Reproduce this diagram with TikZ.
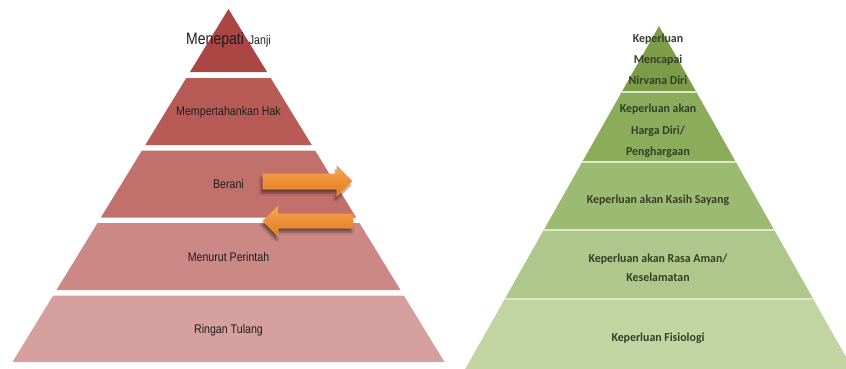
\documentclass[tikz,border=0pt]{standalone}
\usepackage{fontspec}
\setmainfont{Liberation Sans}[FakeStretch=0.85]
\newfontfamily\grfont{Carlito}[FakeStretch=0.97]
\usetikzlibrary{shadows.blur}
\definecolor{r1}{HTML}{AA4643}
\definecolor{r2}{HTML}{B85A55}
\definecolor{r3}{HTML}{C2706C}
\definecolor{r4}{HTML}{CC8885}
\definecolor{r5}{HTML}{D6A09F}
\definecolor{g1}{HTML}{7C9C48}
\definecolor{g2}{HTML}{8BAC5B}
\definecolor{g3}{HTML}{9DBA72}
\definecolor{g4}{HTML}{AFC78A}
\definecolor{g5}{HTML}{C1D4A2}
\definecolor{gsep}{HTML}{DCE8C8}
\definecolor{gtext}{HTML}{34402A}
\definecolor{ortop}{HTML}{F8A650}
\definecolor{orbot}{HTML}{E27A1C}
\definecolor{oredge}{HTML}{F39A3E}
% #1 centre x, #2 slope, #3 apex y, #4 top y, #5 bottom y, #6 colour
\newcommand\pyrband[6]{\fill[#6] ({#1-#2*(#4-#3)},#4) -- ({#1+#2*(#4-#3)},#4) -- ({#1+#2*(#5-#3)},#5) -- ({#1-#2*(#5-#3)},#5) -- cycle;}
\tikzset{
  rlab/.style={font=\fontsize{12.5}{14}\selectfont, text=black!88, anchor=base, inner sep=0pt},
  glab/.style={font=\grfont\bfseries\fontsize{12.2}{14}\selectfont, text=gtext, anchor=base, inner sep=0pt},
  orarrow/.style={top color=ortop, bottom color=orbot, draw=oredge, line width=0.6pt,
    blur shadow={shadow xshift=-1.5pt, shadow yshift=-4pt, shadow opacity=45, shadow blur steps=6}},
  gsepline/.style={draw=gsep, line width=2.5pt}
}
\begin{document}
\begin{tikzpicture}[x=1pt, y=-1pt]
\useasboundingbox (0,0) rectangle (846,368);
% ---------- red pyramid ----------
\fill[r1] (228.5,9) -- ({228.5-0.612*63},72) -- ({228.5+0.612*63},72) -- cycle;
\pyrband{228.5}{0.612}{9}{78}{145}{r2}
\pyrband{228.5}{0.612}{9}{150.5}{217.5}{r3}
\pyrband{228.5}{0.612}{9}{223}{290}{r4}
\pyrband{228.5}{0.612}{9}{295.5}{362}{r5}
\node[rlab] (t1) at (228.5,44) {{\fontsize{16.5}{18}\selectfont Menepati}\hspace{5pt}Janji};
\node[rlab] (t2) at (228.5,115) {Mempertahankan Hak};
\node[rlab] (t3) at (228.5,188) {Berani};
\node[rlab] (t4) at (228.5,261) {Menurut Perintah};
\node[rlab] (t5) at (228.5,333) {Ringan Tulang};
% ---------- arrows ----------
\path[orarrow] (263,174) -- (337,174) -- (337,166) -- (352,181) -- (337,196) -- (337,189) -- (263,189) -- cycle;
\path[orarrow] (353,214) -- (278,214) -- (278,206) -- (263,221) -- (278,236) -- (278,228) -- (353,228) -- cycle;
% ---------- green pyramid ----------
\fill[g1] (659,26) -- ({659-0.565*66},92) -- ({659+0.565*66},92) -- cycle;
\pyrband{659}{0.565}{26}{92}{162}{g2}
\pyrband{659}{0.565}{26}{162}{230}{g3}
\pyrband{659}{0.565}{26}{230}{299}{g4}
\pyrband{659}{0.565}{26}{299}{370}{g5}
\draw[gsepline] ({659-0.565*66},92) -- ({659+0.565*66},92);
\draw[gsepline] ({659-0.565*136},162) -- ({659+0.565*136},162);
\draw[gsepline] ({659-0.565*204},230) -- ({659+0.565*204},230);
\draw[gsepline] ({659-0.565*273},299) -- ({659+0.565*273},299);
\node[glab] (k1a) at (658,42) {Keperluan};
\node[glab] (k1b) at (658,63) {Mencapai};
\node[glab] (k1c) at (658,84) {Nirvana Diri};
\node[glab] (k2a) at (658,112) {Keperluan akan};
\node[glab] (k2b) at (658,134) {Harga Diri/};
\node[glab] (k2c) at (658,155) {Penghargaan};
\node[glab] (k3) at (658,203) {Keperluan akan Kasih Sayang};
\node[glab] (k4a) at (658,262) {Keperluan akan Rasa Aman/};
\node[glab] (k4b) at (658,281) {Keselamatan};
\node[glab] (k5) at (658,341) {Keperluan Fisiologi};
\end{tikzpicture}
\end{document}
